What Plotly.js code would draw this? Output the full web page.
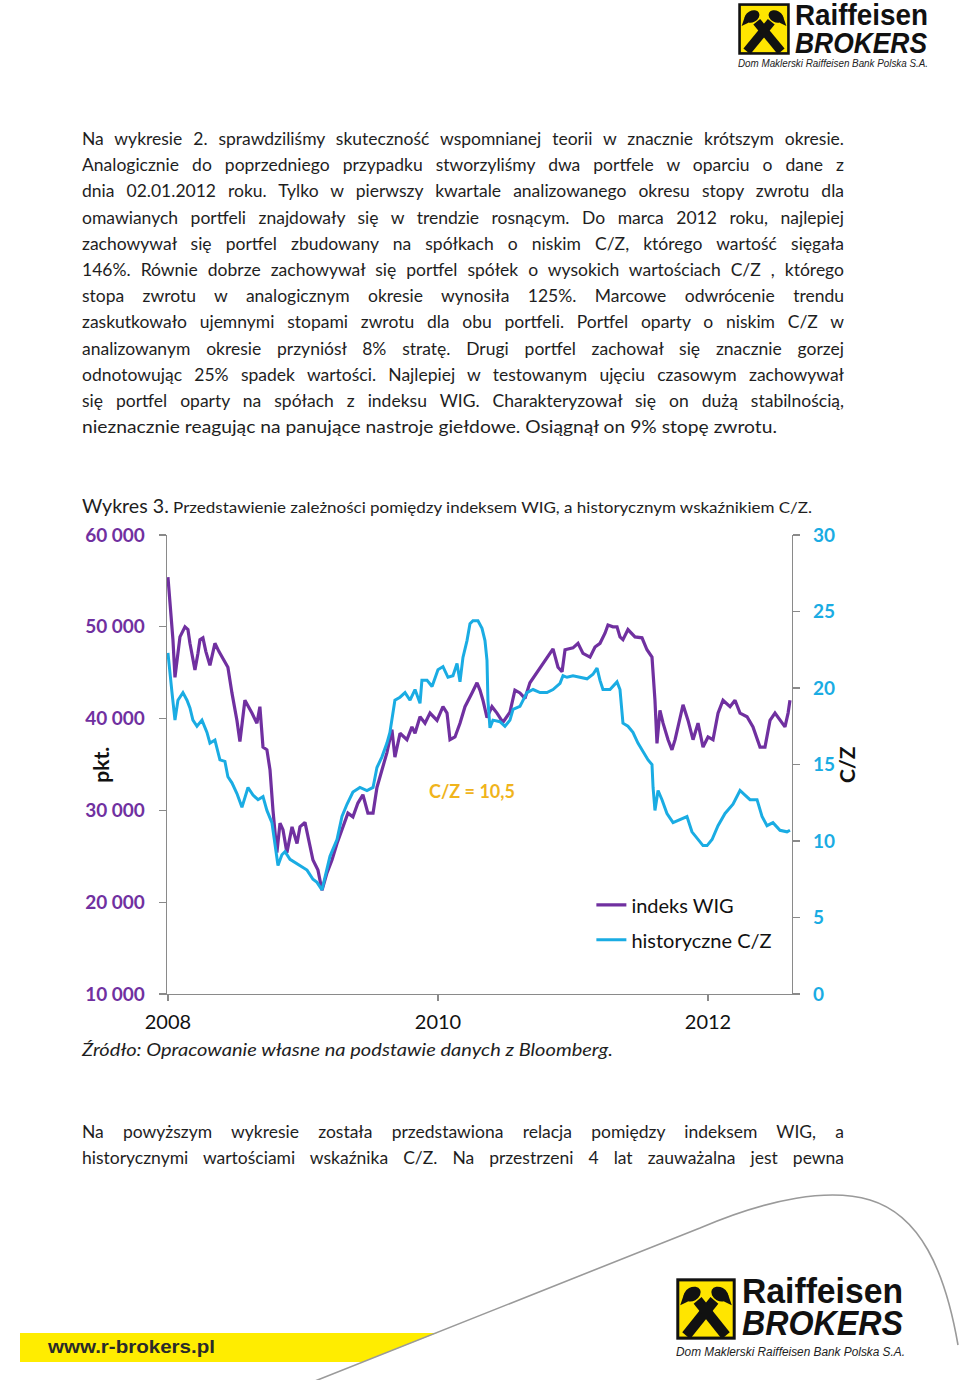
<!DOCTYPE html>
<html>
<head>
<meta charset="utf-8">
<script src="https://cdn.plot.ly/plotly-3.0.1.min.js"></script>
<style>
  body { margin:0; background:#fff; }
  #page { position:relative; width:960px; height:1380px; overflow:hidden; background:#fff; }
  #chart { position:absolute; left:0; top:0; width:960px; height:1380px; }
  .t { position:absolute; font-family: Lato, 'Open Sans', sans-serif; color:#1e1e1e; white-space:nowrap; }
  .jl { left:82px; width:762px; height:26px; line-height:26px; font-size:17.5px; text-align:justify; text-align-last:justify; }
  .ll { left:82px; height:26px; line-height:26px; font-size:17.5px; text-align:left; }
  .fit { display:inline-block; transform-origin:0 50%; }
  .logo { position:absolute; font-family:'Liberation Sans', Arial, sans-serif; color:#111; white-space:nowrap; line-height:0.8; }
</style>
</head>
<body>
<div id="page">
  <div id="chart"></div>
</div>
<script>
// ---------------- DATA ----------------
// WIG index (left axis, pkt.) — time in decimal years
const wigT = [2008.000,2008.015,2008.037,2008.052,2008.074,2008.089,2008.126,2008.148,2008.163,2008.200,
2008.222,2008.237,2008.259,2008.281,2008.311,2008.348,2008.378,2008.407,2008.444,2008.474,
2008.511,2008.533,2008.570,2008.622,2008.659,2008.681,2008.704,2008.733,2008.756,2008.778,
2008.807,2008.830,2008.852,2008.881,2008.919,2008.956,2008.978,2009.015,2009.052,2009.074,
2009.111,2009.141,2009.178,2009.215,2009.252,2009.296,2009.333,2009.370,2009.407,2009.444,
2009.481,2009.519,2009.548,2009.585,2009.622,2009.659,2009.681,2009.719,2009.770,2009.807,
2009.830,2009.867,2009.904,2009.941,2009.993,2010.037,2010.067,2010.089,2010.126,2010.163,
2010.200,2010.252,2010.289,2010.311,2010.333,2010.363,2010.400,2010.437,2010.481,2010.533,
2010.570,2010.607,2010.644,2010.681,2010.733,2010.756,2010.793,2010.830,2010.852,2010.889,
2010.919,2010.941,2011.000,2011.037,2011.074,2011.126,2011.163,2011.200,2011.237,2011.259,
2011.296,2011.326,2011.348,2011.370,2011.407,2011.459,2011.511,2011.548,2011.585,2011.607,
2011.622,2011.644,2011.667,2011.704,2011.733,2011.756,2011.778,2011.815,2011.852,2011.889,
2011.926,2011.963,2012.000,2012.037,2012.074,2012.111,2012.163,2012.200,2012.237,2012.289,
2012.333,2012.385,2012.422,2012.459,2012.496,2012.533,2012.570,2012.593,2012.607];
const wigV = [55400,52900,48600,44500,47100,48900,50000,49700,48200,45300,
47100,48600,48800,47300,45800,48200,47300,46600,45600,42800,
39800,37500,42000,40600,39500,41300,36900,36600,34400,30000,
25400,28600,27900,25400,28200,26400,28200,28700,26000,24600,
23500,21300,23200,24600,26400,28200,29700,29300,30800,31700,
29700,29700,32500,34400,36300,38800,35800,38400,37700,39100,
38400,40200,39500,40600,39800,41300,40600,37700,38000,39500,
41300,42800,43900,43100,42000,40100,41300,40600,39600,40700,
43100,42800,42200,43900,45000,45600,46400,47100,47600,45600,
45100,47500,47700,48200,47100,46700,47800,48200,49300,50200,
50000,50000,48900,48600,49700,48900,48800,47500,46700,42000,
37300,40900,39500,37700,36600,37700,39100,41500,39800,37700,
39500,36900,38000,37700,40600,42000,41300,42000,40600,40200,
39100,36900,36900,39800,40600,39800,39100,40600,42000];

// historical P/E (C/Z) (right axis)
const czT = [2008.000,2008.015,2008.030,2008.052,2008.074,2008.111,2008.141,2008.163,2008.185,2008.215,
2008.252,2008.289,2008.311,2008.348,2008.385,2008.422,2008.444,2008.474,2008.511,2008.548,
2008.593,2008.630,2008.667,2008.704,2008.733,2008.770,2008.793,2008.815,2008.844,2008.867,
2008.904,2008.978,2009.030,2009.074,2009.104,2009.141,2009.163,2009.200,2009.252,2009.289,
2009.326,2009.370,2009.422,2009.474,2009.519,2009.548,2009.585,2009.622,2009.644,2009.667,
2009.681,2009.719,2009.756,2009.793,2009.830,2009.867,2009.881,2009.919,2009.956,2010.000,
2010.037,2010.074,2010.111,2010.141,2010.163,2010.185,2010.215,2010.237,2010.259,2010.296,
2010.326,2010.348,2010.363,2010.370,2010.385,2010.407,2010.459,2010.496,2010.533,2010.556,
2010.607,2010.659,2010.704,2010.756,2010.807,2010.852,2010.881,2010.904,2010.926,2010.956,
2011.000,2011.052,2011.104,2011.148,2011.178,2011.200,2011.222,2011.274,2011.326,2011.348,
2011.370,2011.407,2011.444,2011.481,2011.519,2011.556,2011.585,2011.593,2011.607,2011.630,
2011.659,2011.696,2011.741,2011.793,2011.844,2011.881,2011.919,2011.963,2011.993,2012.030,
2012.074,2012.126,2012.185,2012.237,2012.274,2012.311,2012.363,2012.400,2012.437,2012.481,
2012.533,2012.585,2012.607];
const czV = [22.3,21.2,19.7,17.9,19.2,19.7,19.2,18.7,17.9,17.5,
17.9,17.1,16.4,16.6,15.3,15.2,14.2,13.8,13.1,12.2,
13.5,13.0,12.7,12.9,12.0,11.2,9.6,8.4,9.1,9.3,
8.8,8.4,8.1,7.5,7.3,6.8,7.6,9.0,10.1,11.6,
12.4,13.2,13.5,13.3,13.5,14.8,15.5,16.4,17.1,18.4,
19.2,19.4,19.7,19.2,19.9,19.0,20.5,20.5,20.1,21.2,
21.4,20.7,20.8,21.6,20.4,22.0,23.1,24.2,24.4,24.4,
23.9,23.1,21.8,19.2,17.4,17.9,17.8,17.5,17.9,18.6,
18.8,19.7,19.9,19.7,19.7,19.9,20.1,20.3,20.8,20.7,
20.8,20.7,20.6,20.9,21.3,20.5,19.9,19.9,20.4,19.9,
17.7,17.5,17.1,16.4,15.8,15.3,15.0,13.5,12.0,13.3,
12.7,11.8,11.2,11.4,11.6,10.6,10.2,9.7,9.7,10.1,
11.0,11.8,12.4,13.3,13.0,12.7,12.7,11.6,11.0,11.2,
10.7,10.6,10.7];

const seriesNames = ['indeks WIG', 'historyczne C/Z'];
const xTickVals = [2008, 2010, 2012];
const xTickText = ['2008', '2010', '2012'];
const yTickVals = [10000, 20000, 30000, 40000, 50000, 60000];
const yTickText = ['10 000', '20 000', '30 000', '40 000', '50 000', '60 000'];
const y2TickVals = [0, 5, 10, 15, 20, 25, 30];
const y2TickText = ['0', '5', '10', '15', '20', '25', '30'];
const noteText = 'C/Z = 10,5';

// ---------------- TEXTS ----------------
const para1 = [
"Na wykresie 2. sprawdziliśmy skuteczność wspomnianej teorii w znacznie krótszym okresie.",
"Analogicznie do poprzedniego przypadku stworzyliśmy dwa portfele w oparciu o dane z",
"dnia 02.01.2012 roku. Tylko w pierwszy kwartale analizowanego okresu stopy zwrotu dla",
"omawianych portfeli znajdowały się w trendzie rosnącym. Do marca 2012 roku, najlepiej",
"zachowywał się portfel zbudowany na spółkach o niskim C/Z, którego wartość sięgała",
"146%. Równie dobrze zachowywał się portfel spółek o wysokich wartościach C/Z , którego",
"stopa zwrotu w analogicznym okresie wynosiła 125%. Marcowe odwrócenie trendu",
"zaskutkowało ujemnymi stopami zwrotu dla obu portfeli. Portfel oparty o niskim C/Z w",
"analizowanym okresie przyniósł 8% stratę. Drugi portfel zachował się znacznie gorzej",
"odnotowując 25% spadek wartości. Najlepiej w testowanym ujęciu czasowym zachowywał",
"się portfel oparty na spółach z indeksu WIG. Charakteryzował się on dużą stabilnością,",
"nieznacznie reagując na panujące nastroje giełdowe. Osiągnął on 9% stopę zwrotu."
];
const para2 = [
"Na powyższym wykresie została przedstawiona relacja pomiędzy indeksem WIG, a",
"historycznymi wartościami wskaźnika C/Z. Na przestrzeni 4 lat zauważalna jest pewna"
];
const captionA = "Wykres 3.";
const captionB = " Przedstawienie zależności pomiędzy indeksem WIG, a historycznym wskaźnikiem C/Z.";
const sourceText = "Źródło: Opracowanie własne na podstawie danych z Bloomberg.";
const url = "www.r-brokers.pl";
const brand1 = "Raiffeisen", brand2 = "BROKERS", brand3 = "Dom Maklerski Raiffeisen Bank Polska S.A.";

// ---------------- CHART ----------------
const PURPLE = '#7030A0', CYAN = '#1AACE3', GREY = '#8a8a8a';
const traces = [
  { x: wigT, y: wigV, name: seriesNames[0], type: 'scatter', mode: 'lines', yaxis: 'y',
    line: { color: PURPLE, width: 3.2 }, legend: 'legend' },
  { x: czT, y: czV, name: seriesNames[1], type: 'scatter', mode: 'lines', yaxis: 'y2',
    line: { color: CYAN, width: 3 }, legend: 'legend2' }
];
const legendCommon = { xanchor: 'left', yanchor: 'middle', bgcolor: 'rgba(0,0,0,0)', borderwidth: 0,
  font: { family: 'Lato, sans-serif', size: 20, color: '#111' } };
const layout = {
  width: 960, height: 1380,
  margin: { l: 167, r: 168, t: 535, b: 386, pad: 0 },
  paper_bgcolor: 'rgba(0,0,0,0)', plot_bgcolor: 'rgba(0,0,0,0)',
  showlegend: true,
  legend: Object.assign({ x: 0.679, y: 0.194 }, legendCommon),
  legend2: Object.assign({ x: 0.679, y: 0.118 }, legendCommon),
  xaxis: {
    type: 'linear', range: [2007.993, 2012.622],
    tickvals: xTickVals, ticktext: xTickText,
    showgrid: false, zeroline: false, showline: true, linecolor: GREY, linewidth: 1.3,
    ticks: 'outside', ticklen: 6, tickcolor: GREY, tickwidth: 1.3,
    ticklabelstandoff: 4,
    tickfont: { family: 'Lato, sans-serif', size: 20, color: '#111' }
  },
  yaxis: {
    range: [10000, 60000], tickvals: yTickVals, ticktext: yTickText,
    showgrid: false, zeroline: false, showline: true, linecolor: GREY, linewidth: 1.3,
    ticks: 'outside', ticklen: 7, tickcolor: GREY, tickwidth: 1.3,
    ticklabelstandoff: 10,
    tickfont: { family: 'Lato, sans-serif', size: 19, color: PURPLE, weight: 'bold' }
  },
  yaxis2: {
    overlaying: 'y', side: 'right', range: [0, 30], tickvals: y2TickVals, ticktext: y2TickText,
    showgrid: false, zeroline: false, showline: true, linecolor: GREY, linewidth: 1.3,
    ticks: 'outside', ticklen: 7, tickcolor: GREY, tickwidth: 1.3,
    ticklabelstandoff: 9,
    tickfont: { family: 'Lato, sans-serif', size: 19, color: CYAN, weight: 'bold' }
  },
  annotations: [
    { text: 'pkt.', xref: 'paper', yref: 'paper', x: -0.106, y: 0.499, textangle: -90,
      showarrow: false, xanchor: 'center', yanchor: 'middle',
      font: { family: 'Lato, sans-serif', size: 21, color: '#111', weight: 'bold' } },
    { text: 'C/Z', xref: 'paper', yref: 'paper', x: 1.088, y: 0.499, textangle: -90,
      showarrow: false, xanchor: 'center', yanchor: 'middle',
      font: { family: 'Lato, sans-serif', size: 21, color: '#111', weight: 'bold' } },
    { text: noteText, xref: 'paper', yref: 'paper', x: 0.488, y: 0.4423,
      showarrow: false, xanchor: 'center', yanchor: 'middle',
      font: { family: 'Lato, sans-serif', size: 18, color: '#F0B41C', weight: 'bold' } }
  ]
};
Plotly.newPlot('chart', traces, layout, { displayModeBar: false, staticPlot: true });

// ---------------- PAGE DECORATION & TEXT ----------------
const page = document.getElementById('page');
function addDiv(cls, top, html, extra) {
  const d = document.createElement('div');
  d.className = cls; d.style.top = top + 'px'; d.innerHTML = html;
  if (extra) Object.assign(d.style, extra);
  page.appendChild(d); return d;
}
const justified = [];
para1.forEach((line, i) => {
  const last = i === para1.length - 1;
  const d = addDiv(last ? 't ll' : 't jl', 139 + i * 26.2 - 13, last ? '<span class="fit">' + line + '</span>' : line);
  if (last) d.dataset.fitw = 695; else justified.push(d);
});
para2.forEach((line, i) => { justified.push(addDiv('t jl', 1132 + i * 26 - 13, line)); });

const cap = addDiv('t', 493, '<span class="fit"><span style="font-size:18.5px">' + captionA +
  '</span><span style="font-size:16px">' + captionB + '</span></span>', { left: '82px', lineHeight: '26px' });
cap.dataset.fitw = 730;
const src = addDiv('t', 1037, '<span class="fit" style="font-style:italic;font-size:17.5px">' + sourceText + '</span>',
  { left: '82px', lineHeight: '26px' });
src.dataset.fitw = 531;

// logo builder
function logoMark(left, top, w, h) {
  const s = `<svg width="${w}" height="${h}" viewBox="0 0 100 100" preserveAspectRatio="none" style="position:absolute;left:${left}px;top:${top}px">
   <rect x="3" y="3" width="94" height="94" fill="#FFE500" stroke="#111" stroke-width="5"/>
   <g stroke="#111" stroke-width="17" stroke-linecap="butt">
     <line x1="17" y1="93" x2="64" y2="36"/>
     <line x1="83" y1="93" x2="36" y2="36"/>
   </g>
   <g fill="#111">
     <ellipse cx="27" cy="26" rx="15" ry="11" transform="rotate(-28 27 26)"/>
     <polygon points="14,24 7,44 20,38"/>
     <ellipse cx="73" cy="26" rx="15" ry="11" transform="rotate(28 73 26)"/>
     <polygon points="86,24 93,44 80,38"/>
   </g></svg>`;
  page.insertAdjacentHTML('beforeend', s);
}
function logoText(left, top, size, text, fitw, style) {
  const d = document.createElement('div');
  d.className = 'logo';
  d.style.left = left + 'px'; d.style.top = top + 'px'; d.style.fontSize = size + 'px';
  d.innerHTML = '<span class="fit" style="' + (style || '') + '">' + text + '</span>';
  d.dataset.fitw = fitw;
  page.appendChild(d);
}
// top-right logo
logoMark(738, 3, 52, 52);
logoText(795, 4, 29, brand1, 133, 'font-weight:bold');
logoText(795, 31, 30, brand2, 132, 'font-weight:bold;font-style:italic');
logoText(738, 59, 11, brand3, 190, 'font-style:italic;color:#222');
// bottom logo
logoMark(676, 1278, 60, 62);
logoText(742, 1277, 35, brand1, 161, 'font-weight:bold');
logoText(742, 1309, 35, brand2, 161, 'font-weight:bold;font-style:italic');
logoText(676, 1347, 12.5, brand3, 229, 'font-style:italic;color:#222');

// bottom band and swoosh
page.insertAdjacentHTML('beforeend',
 `<svg width="960" height="200" style="position:absolute;left:0;top:1180px">
   <polygon points="20,153 437,153 363,182 20,182" fill="#FFED00"/>
   <path d="M315 201 L700 48 C770 18 830 8 870 20 C920 35 945 90 958 165" fill="none" stroke="#9a9a9a" stroke-width="1.6"/>
 </svg>`);
const u = document.createElement('div');
u.className = 'logo';
Object.assign(u.style, { left: '48px', top: '1339px', fontSize: '19px', color: '#2a2a2a' });
u.innerHTML = '<span class="fit" style="font-weight:bold">' + url + '</span>';
u.dataset.fitw = 167;
page.appendChild(u);

function fitAll() {
  document.querySelectorAll('[data-fitw]').forEach(d => {
    const sp = d.querySelector('.fit');
    sp.style.transform = 'none';
    const w = sp.getBoundingClientRect().width;
    if (w > 0) sp.style.transform = 'scaleX(' + (parseFloat(d.dataset.fitw) / w) + ')';
  });
  justified.forEach(d => {
    d.style.letterSpacing = '0px';
    const over = d.scrollWidth - d.clientWidth;
    if (over > 0) d.style.letterSpacing = (-(over + 2) / d.textContent.length) + 'px';
  });
}
fitAll();
if (document.fonts && document.fonts.ready) document.fonts.ready.then(fitAll);
</script>
</body>
</html>
